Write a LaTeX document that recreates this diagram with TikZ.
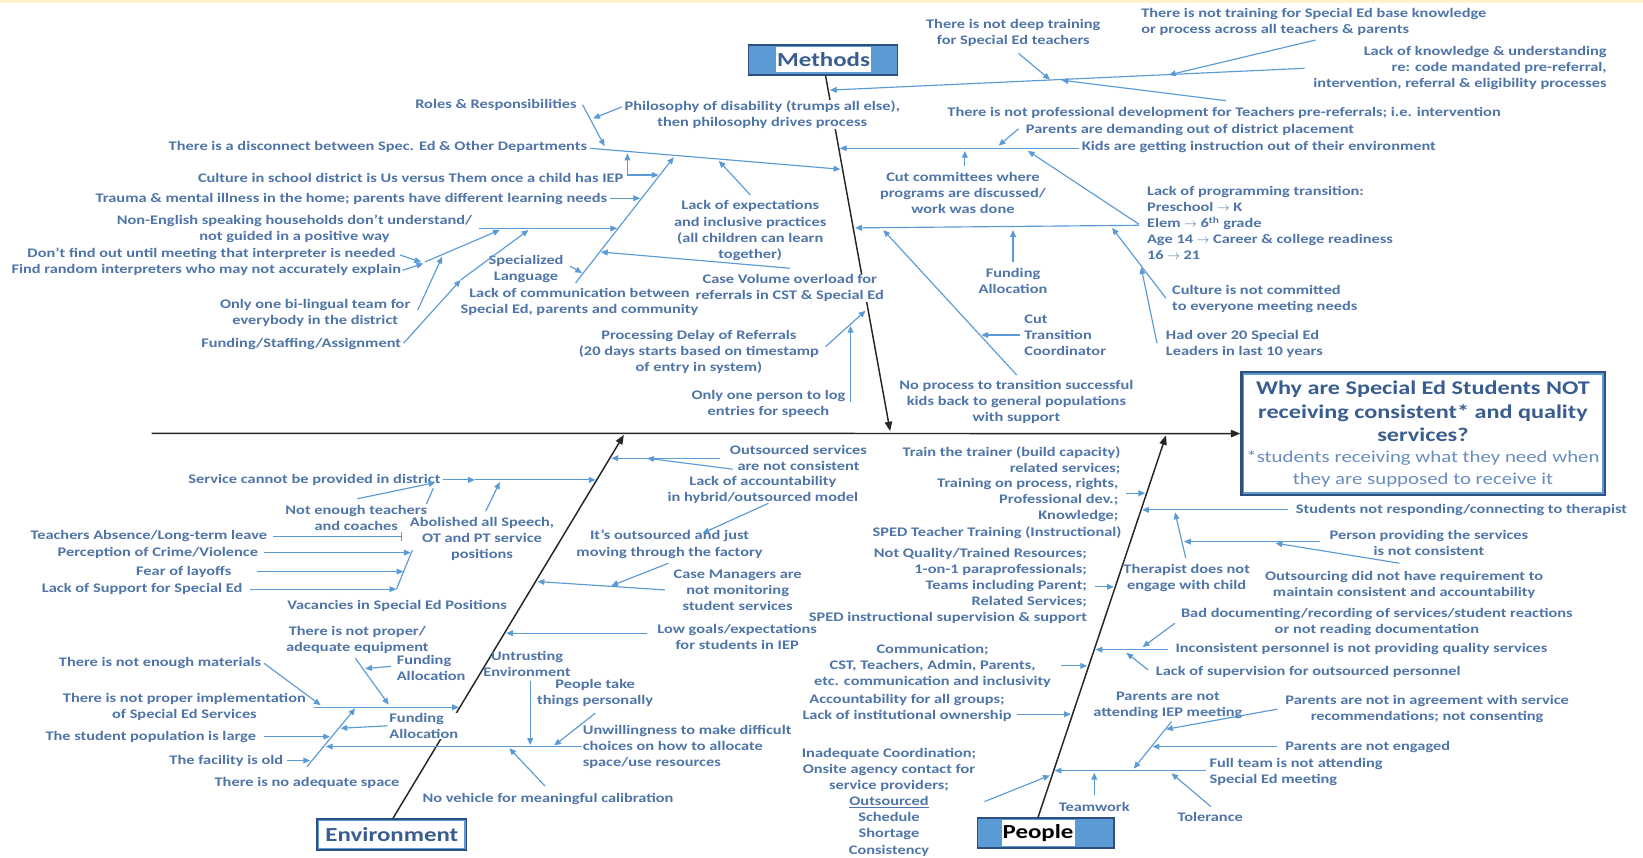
\documentclass[tikz,border=0pt]{standalone}
\usepackage{fontspec}
\setmainfont{Carlito}[FakeStretch=1.25]
\usetikzlibrary{arrows.meta}
\definecolor{tc}{HTML}{4F75A8}
\definecolor{tcl}{HTML}{6A8DC0}
\definecolor{lc}{HTML}{5B9BD5}
\definecolor{dk}{HTML}{2F4F7F}
\definecolor{tt}{HTML}{3A5D8F}
\definecolor{bf}{HTML}{5B9BD5}
\definecolor{cream}{HTML}{FFF2CC}
\newcommand\lbf{\fontsize{12.5}{15.3}\selectfont\bfseries}
\newcommand\conn[3]{\coordinate (#1s) at (#2);\coordinate (#1e) at (#3);\draw[arr] (#1s) -- (#1e);}
\newcommand\pconn[3]{\coordinate (#1s) at (#2);\coordinate (#1e) at (#3);\draw[pl] (#1s) -- (#1e);}
\begin{document}
\begin{tikzpicture}[x=1pt,y=-1pt,
  arr/.style={draw=lc,line width=1.1pt,-{Triangle[length=6.5pt,width=5.5pt]}},
  pl/.style={draw=lc,line width=1.1pt},
  bone/.style={draw=black!85,line width=1.4pt,-{Triangle[length=9pt,width=7pt]}},
  lb/.style={font=\lbf,text=tc,align=center,inner sep=0.5pt},
  lbw/.style={lb,fill=white},
  ]
\useasboundingbox (0,0) rectangle (1568,818);
\fill[white] (0,0) rectangle (1568,818);
\fill[cream] (0,0) rectangle (1568,3);

% ---------- boxes ----------
\node[draw=dk,line width=2.5pt,fill=white,minimum width=346.5,minimum height=117,inner sep=0] (qbox) at (1358.25,413.8) {};
\draw[lc,line width=1.5pt] ([shift={(3,3)}]qbox.north west) rectangle ([shift={(-3,-3)}]qbox.south east);
\node[font=\fontsize{18.5}{22.3}\selectfont\bfseries,text=tt,align=center,inner sep=0] (qt1) at (1358,392.8) {Why are Special Ed Students NOT\\receiving consistent* and quality\\services?};
\node[font=\fontsize{15.9}{20.7}\selectfont,text=tcl,align=center,inner sep=0] (qt2) at (1358,447.6) {*students receiving what they need when\\they are supposed to receive it};

\node[draw=dk,line width=1.5pt,fill=bf,minimum width=142,minimum height=28.6,inner sep=0] (methods) at (785.5,57.3) {};
\node[fill=white,text=tt,font=\fontsize{19}{22}\selectfont\bfseries,inner xsep=1pt,inner ysep=0pt,minimum height=23] (methodst) at (786,56.8) {Methods};

\node[draw=dk,line width=2pt,fill=white,minimum width=142,minimum height=29,inner sep=0] (env) at (374,796.5) {};
\draw[lc,line width=1.2pt] ([shift={(2.2,2.2)}]env.north west) rectangle ([shift={(-2.2,-2.2)}]env.south east);
\node[text=tt,font=\fontsize{19}{22}\selectfont\bfseries,inner sep=0] (envt) at (env) {Environment};

\node[draw=dk,line width=1.5pt,fill=bf,minimum width=130,minimum height=28.6,inner sep=0] (people) at (998,795.2) {};
\node[fill=white,text=black,font=\fontsize{19}{22}\selectfont\bfseries,inner xsep=1pt,inner ysep=0pt,minimum height=25] (peoplet) at (990.7,795.2) {People};

% ---------- spine and bones ----------
\coordinate (sp0) at (144.8,413.5);
\draw[bone] (sp0) -- (qbox.west);
\coordinate (mb0) at ([xshift=2.4pt]methods.south);
\coordinate (mb1) at (849.5,411.5);
\draw[bone] (mb0) -- (mb1);
\coordinate (eb0) at ([xshift=1pt]env.north);
\coordinate (eb1) at (595.4,415);
\draw[bone] (eb0) -- (eb1);
\coordinate (pb0) at ([xshift=-7.4pt]people.north);
\coordinate (pb1) at (1112.8,415.5);
\draw[bone] (pb0) -- (pb1);

% ---------- Methods labels ----------
\node[lb,anchor=east] (l1) at (551,100) {Roles \& Responsibilities};
\node[lbw] (l2) at (727.4,109) {Philosophy of disability (trumps all else),\\then philosophy drives process};
\node[lb,anchor=east] (l3) at (561,140) {There is a disconnect between Spec. Ed \& Other Departments};
\node[lb,anchor=east] (l4) at (595.5,170) {Culture in school district is Us versus Them once a child has IEP};
\node[lb,anchor=east] (l5) at (580,189.5) {Trauma \& mental illness in the home; parents have different learning needs};
\node[lb] (l6) at (281,218.2) {Non-English speaking households don’t understand/\\not guided in a positive way};
\node[lb,anchor=east] (l7) at (378.3,242.4) {Don’t find out until meeting that interpreter is needed};
\node[lb,anchor=east] (l8) at (383.4,257.6) {Find random interpreters who may not accurately explain};
\node[lb] (l9) at (300.8,298.5) {Only one bi-lingual team for\\everybody in the district};
\node[lb,anchor=east] (l10) at (383.4,328.2) {Funding/Staffing/Assignment};
\node[lb] (l11) at (502,257) {Specialized\\Language};
\node[lb] (l12) at (553,288) {Lack of communication between\\Special Ed, parents and community};
\node[lb] (l13) at (716,220) {Lack of expectations\\and inclusive practices\\(all children can learn\\together)};
\node[lbw] (l14) at (753.8,275) {Case Volume overload for\\referrals in CST \& Special Ed};
\node[lb] (l15) at (667,335.5) {Processing Delay of Referrals\\(20 days starts based on timestamp\\of entry in system)};
\node[lb] (l16) at (733.4,385.6) {Only one person to log\\entries for speech};

\node[lb] (r1) at (967,31) {There is not deep training\\for Special Ed teachers};
\node[lb,anchor=west,align=left] (r2) at (1088.5,21) {There is not training for Special Ed base knowledge\\or process across all teachers \& parents};
\node[lb,anchor=east,align=right] (r3) at (1534,65) {Lack of knowledge \& understanding\\re: code mandated pre-referral,\\intervention, referral \& eligibility processes};
\node[lb,anchor=east] (r4) at (1433,108) {There is not professional development for Teachers pre-referrals; i.e. intervention};
\node[lb,anchor=east] (r5) at (1293,124) {Parents are demanding out of district placement};
\node[lb,anchor=east] (r6) at (1371,140) {Kids are getting instruction out of their environment};
\node[lb] (r7) at (919,184) {Cut committees where\\programs are discussed/\\work was done};
\node[lb,anchor=west,align=left] (r8) at (1094,213) {Lack of programming transition:\\Preschool $\rightarrow$ K\\Elem $\rightarrow$ 6\textsuperscript{th} grade\\Age 14 $\rightarrow$ Career \& college readiness\\16 $\rightarrow$ 21};
\node[lb] (r9) at (966.8,268.4) {Funding\\Allocation};
\node[lb,anchor=west,align=left] (r10) at (1118,285.3) {Culture is not committed\\to everyone meeting needs};
\node[lb,anchor=west,align=left] (r11) at (977,319.7) {Cut\\Transition\\Coordinator};
\node[lb,anchor=west,align=left] (r12) at (1112,328) {Had over 20 Special Ed\\Leaders in last 10 years};
\node[lb] (r13) at (970,384) {No process to transition successful\\kids back to general populations\\with support};

% ---------- Environment labels ----------
\node[lb,anchor=east] (e1) at (421,458) {Service cannot be provided in district};
\node[lb] (e2) at (340,494.3) {Not enough teachers\\and coaches};
\node[lb] (e3) at (460,514) {Abolished all Speech,\\OT and PT service\\positions};
\node[lb,anchor=east] (e4) at (255.7,512) {Teachers Absence/Long-term leave};
\node[lb,anchor=east] (e5) at (247,527.4) {Perception of Crime/Violence};
\node[lb,anchor=east] (e6) at (221.5,545.5) {Fear of layoffs};
\node[lb,anchor=east] (e7) at (232,562.3) {Lack of Support for Special Ed};
\node[lb] (e8) at (379,578) {Vacancies in Special Ed Positions};
\node[lb] (e9) at (341,611) {There is not proper/\\adequate equipment};
\node[lb,anchor=east] (e10) at (250,633) {There is not enough materials};
\node[lb,anchor=west,align=left] (e11) at (378,637) {Funding\\Allocation};
\node[lb] (e12) at (176,674.5) {There is not proper implementation\\of Special Ed Services};
\node[lb,anchor=east] (e13) at (245,703) {The student population is large};
\node[lb,anchor=east] (e14) at (271,725.8) {The facility is old};
\node[lb] (e15) at (293,747.6) {There is no adequate space};
\node[lbw,anchor=west,align=left] (e16) at (371,692.7) {Funding\\Allocation};
\node[lb] (e17) at (503,634) {Untrusting\\Environment};
\node[lb] (e18) at (568,661.5) {People take\\things personally};
\node[lb,anchor=west,align=left] (e19) at (555.5,712.5) {Unwillingness to make difficult\\choices on how to allocate\\space/use resources};
\node[lb] (e20) at (523,762.4) {No vehicle for meaningful calibration};
\node[lb] (e21) at (762,436.7) {Outsourced services\\are not consistent};
\node[lb] (e22) at (728,468) {Lack of accountability\\in hybrid/outsourced model};
\node[lb] (e23) at (639,519.5) {It’s outsourced and just\\moving through the factory};
\node[lb] (e24) at (704,563) {Case Managers are\\not monitoring\\student services};
\node[lb] (e25) at (703.5,608) {Low goals/expectations\\for students in IEP};

% ---------- People labels ----------
\node[lb,anchor=east,align=right] (p1) at (1070,439.5) {Train the trainer (build capacity)\\related services;};
\node[lb,anchor=east,align=right] (p2) at (1068,477.6) {Training on process, rights,\\Professional dev.;\\Knowledge;};
\node[lb,anchor=east] (p3) at (1071,508.3) {SPED Teacher Training (Instructional)};
\node[lb,anchor=east,align=right] (p4) at (1038,559.5) {Not Quality/Trained Resources;\\1-on-1 paraprofessionals;\\Teams including Parent;\\Related Services;\\SPED instructional supervision \& support};
\node[lb] (p5) at (890,635.6) {Communication;\\CST, Teachers, Admin, Parents,\\etc. communication and inclusivity};
\node[lb] (p6) at (865.6,676) {Accountability for all groups;\\Lack of institutional ownership};
\node[lb] (p7) at (848.4,765.7) {Inadequate Coordination;\\Onsite agency contact for\\service providers;\\\underline{Outsourced}\\Schedule\\Shortage\\Consistency};
\node[lb,anchor=west] (p8) at (1236,486.6) {Students not responding/connecting to therapist};
\node[lb] (p9) at (1363.7,518) {Person providing the services\\is not consistent};
\node[lb] (p10) at (1132.5,551.9) {Therapist does not\\engage with child};
\node[lb] (p11) at (1340,557.9) {Outsourcing did not have requirement to\\maintain consistent and accountability};
\node[lb] (p12) at (1314,594) {Bad documenting/recording of services/student reactions\\or not reading documentation};
\node[lb,anchor=west] (p13) at (1121.2,619.6) {Inconsistent personnel is not providing quality services};
\node[lb,anchor=west] (p14) at (1102.5,641) {Lack of supervision for outsourced personnel};
\node[lb] (p15) at (1114.6,672.7) {Parents are not\\attending IEP meeting};
\node[lb] (p16) at (1362,677) {Parents are not in agreement with service\\recommendations; not consenting};
\node[lb,anchor=west] (p17) at (1226,712.5) {Parents are not engaged};
\node[lb,anchor=west,align=left] (p18) at (1153.7,737) {Full team is not attending\\Special Ed meeting};
\node[lb] (p19) at (1044.3,770) {Teamwork};
\node[lb] (p20) at (1155,779.3) {Tolerance};

% ---------- Methods connectors ----------
\conn{a1}{563,141.5}{802,161.5}
\conn{a2}{556,100}{577,139.5}
\conn{a3}{593.5,102}{566,113}
\conn{a4}{598.8,167}{628.5,167}
\conn{a5}{598.8,167}{598.8,146.5}
\conn{a6}{582,189.2}{611,189.2}
\conn{a7}{549.3,270}{643,150}
\conn{a8}{716,186}{686,153.5}
\conn{a9}{456.7,218}{589,218}
\conn{a10}{405.5,250}{477,219.5}
\conn{a11}{381.7,243.3}{402,250.3}
\conn{a12}{384,258}{404,251.5}
\conn{a13}{398.7,295.8}{422,245}
\conn{a14}{385.1,327.6}{439.6,267.2}
\conn{a15}{439.6,267.2}{504.4,219.5}
\conn{a16}{544,254}{555.5,260.5}
\conn{a17}{753.8,256}{573.5,240.5}
\conn{a18}{787.9,330.8}{826,296.5}
\conn{a19}{811.7,383.3}{811.7,311}

\conn{b1}{1245,65.2}{792,86}
\conn{b2}{1255.4,38.2}{1115.5,71.5}
\conn{b3}{972,50.9}{1002,76}
\conn{b4}{1170.2,96.1}{1013,76.5}
\conn{b5}{1030,141.5}{801.5,141.5}
\conn{b6}{972,123}{953,139}
\conn{b7}{920.8,158}{920.8,144}
\conn{b8}{1087,214}{981,144}
\conn{b9}{1087,215}{816,217.5}
\conn{b10}{966.8,250}{966.8,219.5}
\conn{b11}{970.2,357.8}{843,219.5}
\conn{b12}{973.7,319.7}{936.5,319.7}
\conn{b13}{1112.8,284.7}{1061.3,217.5}
\conn{b14}{1104.2,327.6}{1089,255}

% ---------- Environment connectors ----------
\conn{c1}{422.6,458}{453.3,458}
\conn{c2}{453.3,458}{568.5,458}
\conn{c3}{341,476}{415.5,460.5}
\pconn{c4}{407,481}{413.5,466}
\conn{c5}{463.5,488}{477,460}
\coordinate (c6s) at (260.7,512);\coordinate (c6e) at (383.4,512);
\draw[pl,-{Bar[width=8pt]}] (c6s) -- (c6e);
\conn{c7}{252,527.4}{392,527.4}
\conn{c8}{245.4,545.5}{385,545.5}
\conn{c9}{238.6,562.3}{378.3,562.3}
\pconn{c10}{378.3,562.3}{393.6,525}
\conn{c11}{687.4,437.3}{583.5,437.3}
\conn{c12}{699.3,447.8}{617.5,437.3}
\conn{c13}{733.4,480.3}{670.3,508.9}
\conn{c14}{634.5,563}{513,555}
\conn{c15}{638,537.5}{583.4,559}
\conn{c16}{617.4,604.3}{483,604.3}
\conn{c17}{506,650}{506,711}
\conn{c18}{568.1,680.6}{528.9,711.5}
\conn{c19}{555,712.5}{311,712.5}
\conn{c20}{520,750}{486,714}
\conn{c21}{293,731.6}{339,676}
\conn{c22}{252,703}{315,703}
\conn{c23}{274,725.8}{296,725.8}
\conn{c24}{370,692.7}{325,695}
\conn{c25}{300,675}{438,675}
\conn{c26}{252,633}{306,673}
\conn{c27}{339,628}{371,672.5}
\conn{c28}{373,636}{348.5,638}

% ---------- People connectors ----------
\conn{d1}{1075,470.7}{1093,470.7}
\conn{d2}{1045,560}{1063,560}
\conn{d3}{1012.8,635.5}{1037.5,635.5}
\conn{d4}{970.2,681.6}{1022,681.6}
\conn{d5}{939.5,765}{1002,740}
\conn{d6}{1229,486.6}{1090,486.6}
\conn{d7}{1131.6,532.7}{1121.4,489}
\conn{d8}{1260,516.9}{1130,516.9}
\conn{d9}{1335.5,537.5}{1217.3,518.4}
\conn{d10}{1121.2,594.8}{1090.5,617.5}
\conn{d11}{1114.5,620}{1045.5,620}
\conn{d12}{1095.6,639.3}{1075,623}
\conn{d13}{1219,676.8}{1112.8,696}
\conn{d14}{1118,688.6}{1082,733.5}
\conn{d15}{1219,712.5}{1100,712.5}
\conn{d16}{1150.5,735.4}{1006.5,735.4}
\conn{d17}{1044.3,758.6}{1044.3,737.5}
\conn{d18}{1155.5,769.7}{1118,738}
\end{tikzpicture}
\end{document}
